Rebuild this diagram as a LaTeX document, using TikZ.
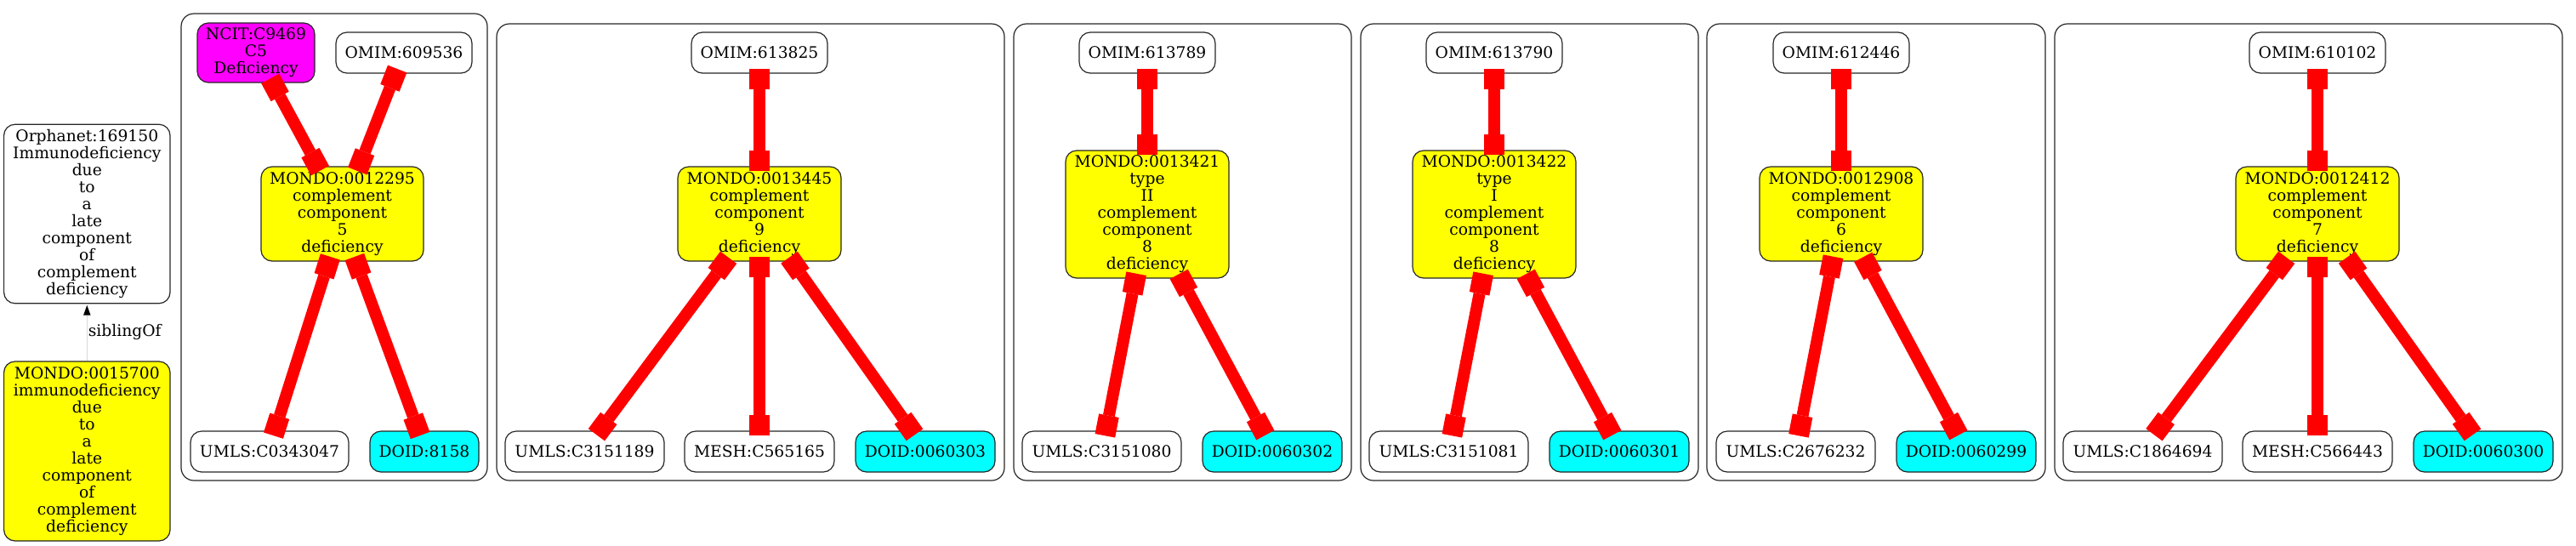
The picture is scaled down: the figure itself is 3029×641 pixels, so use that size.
\documentclass[tikz,border=0pt]{standalone}
\usepackage{fontspec}
\setmainfont{DejaVu Serif}
\usetikzlibrary{arrows.meta}
\newcommand\nfont{\fontsize{18.7pt}{20pt}\selectfont}
\definecolor{ym}{HTML}{FFFF00}
\definecolor{mg}{HTML}{FF00FF}
\definecolor{cy}{HTML}{00FFFF}
\definecolor{rd}{HTML}{FF0000}
\tikzset{
  nbox/.style={draw=black!85, line width=1.2pt, rounded corners=13pt, inner sep=0pt,
    align=center, font=\nfont, minimum height=48pt},
  mondo/.style={nbox, fill=ym},
  ncitbox/.style={nbox, fill=mg},
  doidbox/.style={nbox, fill=cy, minimum width=164pt},
  clus/.style={draw=black!85, line width=1.2pt, rounded corners=15pt},
  xref/.style={draw=rd, line width=14pt,
    {Square[length=24pt,width=24pt,line width=0pt]}-{Square[length=24pt,width=24pt,line width=0pt]},
    shorten <=-6pt, shorten >=-6pt},
  sib/.style={draw=black!15, line width=0.9pt,
    -{Triangle[length=11.7pt,width=8.4pt,line width=0pt,color=black]},
    shorten >=1.5pt},
  siblabel/.style={anchor=west, xshift=1pt, inner sep=0pt, font=\nfont, text=black}
}
\begin{document}
\begin{tikzpicture}[x=1pt,y=-1pt]
\useasboundingbox (0,0) rectangle (3029,641);
% clusters
\draw[clus] (213,16) rectangle (573,565);
\draw[clus] (584,28) rectangle (1181,565);
\draw[clus] (1192,28) rectangle (1589,565);
\draw[clus] (1600,28) rectangle (1997,565);
\draw[clus] (2007,28) rectangle (2405,565);
\draw[clus] (2416,28) rectangle (3013,565);

% left pair
\node[nbox, minimum width=195.4pt, minimum height=210.5pt] (orph) at (102.3,251.5)
  {Orphanet:169150\\Immunodeficiency\\due\\to\\a\\late\\component\\of\\complement\\deficiency};
\node[mondo, minimum width=195.4pt, minimum height=211pt] (m15700) at (102.3,530.5)
  {MONDO:0015700\\immunodeficiency\\due\\to\\a\\late\\component\\of\\complement\\deficiency};
\draw[sib] (m15700.north) -- (orph.south)
  node[pos=0.51, siblabel] {siblingOf};

% cluster 1
\node[ncitbox, minimum width=138pt, minimum height=70pt] (ncit) at (301,62) {NCIT:C9469\\C5\\Deficiency};
\node[nbox, minimum width=160pt] (o609536) at (475,62) {OMIM:609536};
\node[mondo, minimum width=191pt, minimum height=111pt] (m12295) at (402.5,251.5)
  {MONDO:0012295\\complement\\component\\5\\deficiency};
\node[nbox, minimum width=186pt] (u0343047) at (317,531) {UMLS:C0343047};
\node[doidbox, minimum width=128pt] (d8158) at (499,531) {DOID:8158};

% cluster 2
\node[nbox, minimum width=160pt] (o613825) at (893,62) {OMIM:613825};
\node[mondo, minimum width=192pt, minimum height=111pt] (m13445) at (893,251.5)
  {MONDO:0013445\\complement\\component\\9\\deficiency};
\node[nbox, minimum width=187pt] (u3151189) at (687.5,531) {UMLS:C3151189};
\node[nbox, minimum width=176pt] (me565165) at (893,531) {MESH:C565165};
\node[doidbox] (d0060303) at (1088,531) {DOID:0060303};

% cluster 3
\node[nbox, minimum width=160pt] (o613789) at (1349,62) {OMIM:613789};
\node[mondo, minimum width=192pt, minimum height=150pt] (m13421) at (1349,252)
  {MONDO:0013421\\type\\II\\complement\\component\\8\\deficiency};
\node[nbox, minimum width=187pt] (u3151080) at (1295.5,531) {UMLS:C3151080};
\node[doidbox] (d0060302) at (1496,531) {DOID:0060302};

% cluster 4
\node[nbox, minimum width=160pt] (o613790) at (1757,62) {OMIM:613790};
\node[mondo, minimum width=192pt, minimum height=150pt] (m13422) at (1757,252)
  {MONDO:0013422\\type\\I\\complement\\component\\8\\deficiency};
\node[nbox, minimum width=187pt] (u3151081) at (1703.5,531) {UMLS:C3151081};
\node[doidbox] (d0060301) at (1904,531) {DOID:0060301};

% cluster 5
\node[nbox, minimum width=160pt] (o612446) at (2165,62) {OMIM:612446};
\node[mondo, minimum width=192pt, minimum height=111pt] (m12908) at (2165,251.5)
  {MONDO:0012908\\complement\\component\\6\\deficiency};
\node[nbox, minimum width=187pt] (u2676232) at (2111.5,531) {UMLS:C2676232};
\node[doidbox] (d0060299) at (2312,531) {DOID:0060299};

% cluster 6
\node[nbox, minimum width=160pt] (o610102) at (2725,62) {OMIM:610102};
\node[mondo, minimum width=192pt, minimum height=111pt] (m12412) at (2725,251.5)
  {MONDO:0012412\\complement\\component\\7\\deficiency};
\node[nbox, minimum width=187pt] (u1864694) at (2519.5,531) {UMLS:C1864694};
\node[nbox, minimum width=176pt] (me566443) at (2725,531) {MESH:C566443};
\node[doidbox] (d0060300) at (2920,531) {DOID:0060300};

% edges cluster 1
\draw[xref] ([xshift=19.6pt]ncit.south) -- ([xshift=-29pt]m12295.north);
\draw[xref] ([xshift=-10pt]o609536.south) -- ([xshift=20pt]m12295.north);
\draw[xref] ([xshift=-16pt]m12295.south) -- ([xshift=6.3pt]u0343047.north);
\draw[xref] ([xshift=16.4pt]m12295.south) -- ([xshift=-7pt]d8158.north);
% cluster 2
\draw[xref] (o613825.south) -- (m13445.north);
\draw[xref] ([xshift=-40pt]m13445.south) -- ([xshift=17.5pt]u3151189.north);
\draw[xref] (m13445.south) -- (me565165.north);
\draw[xref] ([xshift=38.5pt]m13445.south) -- ([xshift=-16pt]d0060303.north);
% cluster 3
\draw[xref] (o613789.south) -- (m13421.north);
\draw[xref] ([xshift=-14pt]m13421.south) -- ([xshift=5pt]u3151080.north);
\draw[xref] ([xshift=40pt]m13421.south) -- ([xshift=-11pt]d0060302.north);
% cluster 4
\draw[xref] (o613790.south) -- (m13422.north);
\draw[xref] ([xshift=-14pt]m13422.south) -- ([xshift=5pt]u3151081.north);
\draw[xref] ([xshift=40pt]m13422.south) -- ([xshift=-11pt]d0060301.north);
% cluster 5
\draw[xref] (o612446.south) -- (m12908.north);
\draw[xref] ([xshift=-10.6pt]m12908.south) -- ([xshift=4.6pt]u2676232.north);
\draw[xref] ([xshift=28.6pt]m12908.south) -- ([xshift=-12pt]d0060299.north);
% cluster 6
\draw[xref] (o610102.south) -- (m12412.north);
\draw[xref] ([xshift=-40pt]m12412.south) -- ([xshift=17pt]u1864694.north);
\draw[xref] (m12412.south) -- (me566443.north);
\draw[xref] ([xshift=38pt]m12412.south) -- ([xshift=-16pt]d0060300.north);
\end{tikzpicture}
\end{document}
